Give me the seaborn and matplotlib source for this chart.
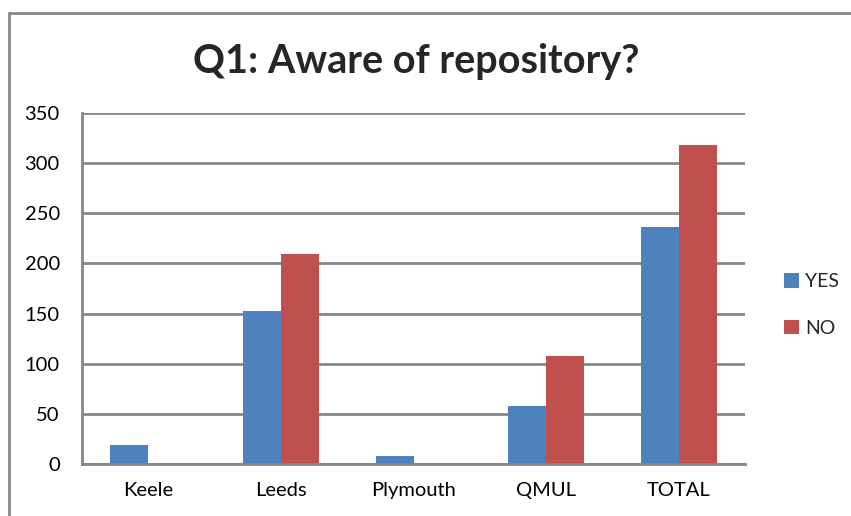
import matplotlib
matplotlib.use("Agg")
import matplotlib.pyplot as plt
import seaborn as sns
import pandas as pd
from matplotlib.patches import Rectangle, Patch

categories = ["Keele", "Leeds", "Plymouth", "QMUL", "TOTAL"]
yes_values = [19, 153, 8, 58, 236]
no_values = [0, 209, 0, 108, 318]
series_names = ["YES", "NO"]
y_ticks = [0, 50, 100, 150, 200, 250, 300, 350]

df = pd.DataFrame({
    "Category": categories * 2,
    "Series": [series_names[0]] * len(categories) + [series_names[1]] * len(categories),
    "Value": yes_values + no_values,
})

sns.set_theme(style="white")
plt.rcParams["font.family"] = ["Lato", "DejaVu Sans"]

colors = {"YES": "#4F81BD", "NO": "#C0504D"}
grid_col = "#868686"

fig = plt.figure(figsize=(8.51, 5.16), dpi=100)
ax = fig.add_axes([82 / 851, 1 - 464 / 516, (745 - 82) / 851, (464 - 113) / 516])

sns.barplot(data=df, x="Category", y="Value", hue="Series", palette=colors,
            order=categories, hue_order=series_names, width=0.573,
            saturation=1, ax=ax, legend=False, linewidth=0)

ax.set_ylim(0, 350)
ax.set_xlim(-0.5, len(categories) - 0.5)
ax.set_yticks(y_ticks)
ax.set_yticklabels([str(t) for t in y_ticks])
ax.set_xlabel("")
ax.set_ylabel("")
ax.yaxis.grid(True, color=grid_col, linewidth=2)
ax.set_axisbelow(True)
for s in ["top", "right"]:
    ax.spines[s].set_visible(False)
for s in ["left", "bottom"]:
    ax.spines[s].set_color(grid_col)
    ax.spines[s].set_linewidth(2)
ax.tick_params(axis="both", length=0, labelsize=14.5, colors="black")
ax.tick_params(axis="y", pad=16)
ax.tick_params(axis="x", pad=13)

fig.text(416 / 851, 1 - 62 / 516, "Q1: Aware of repository?", ha="center", va="center",
         fontsize=28.5, fontweight="bold")

handles = [Patch(facecolor=colors[n], edgecolor="none", label=n) for n in series_names]
fig.legend(handles=handles, loc="center left", bbox_to_anchor=(766 / 851, 1 - 305 / 516),
           frameon=False, fontsize=14, handlelength=0.8, handleheight=0.8,
           handletextpad=0.3, labelspacing=1.5)

frame = Rectangle((9 / 851, -0.1), 1.2, 1 - 13 / 516 + 0.1, transform=fig.transFigure,
                  fill=False, edgecolor=grid_col, linewidth=2, clip_on=False)
fig.patches.append(frame)

fig.savefig("out.png", dpi=100)
